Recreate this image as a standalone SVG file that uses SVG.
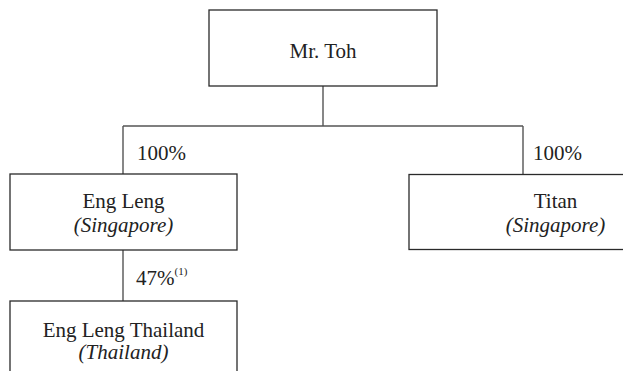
<svg xmlns="http://www.w3.org/2000/svg" width="623" height="371" viewBox="0 0 623 371">
<style>
.box{fill:#fff;stroke:#2a2a2a;stroke-width:1.3}
.ln{stroke:#555;stroke-width:1.4;fill:none}
.c{text-anchor:middle}
.i{font-style:italic}
</style>
<rect width="623" height="371" fill="#fff"/>
<g font-family="Liberation Serif" font-size="21" fill="#222">
<g id="connectors">
<path class="ln" d="M323 86V126M123 126H523M123 126V174M523 126V174M123 250V301"/>
</g>
<g id="labels">
<text x="137" y="160" font-family="Liberation Serif">100%</text>
<text x="533" y="160" font-family="Liberation Serif">100%</text>
<text x="136" y="285" font-family="Liberation Serif">47%<tspan font-size="11" dy="-10">(1)</tspan></text>
</g>
<g id="node-mrtoh">
<rect class="box" x="209" y="10" width="228" height="76"/>
<text class="c" x="323" y="58" font-family="Liberation Serif">Mr. Toh</text>
</g>
<g id="node-engleng">
<rect class="box" x="10" y="174" width="227" height="76"/>
<text class="c" x="123.5" y="208" font-family="Liberation Serif">Eng Leng</text>
<text class="c i" x="123.5" y="232" font-family="Liberation Serif">(Singapore)</text>
</g>
<g id="node-titan">
<rect class="box" x="409" y="174.5" width="300" height="75"/>
<text class="c" x="555.5" y="208" font-family="Liberation Serif">Titan</text>
<text class="c i" x="555.5" y="232" font-family="Liberation Serif">(Singapore)</text>
</g>
<g id="node-englengthailand">
<rect class="box" x="10" y="301" width="227" height="90"/>
<text class="c" x="123.5" y="337" font-family="Liberation Serif">Eng Leng Thailand</text>
<text class="c i" x="123.5" y="359" font-family="Liberation Serif">(Thailand)</text>
</g>
</g>
</svg>
